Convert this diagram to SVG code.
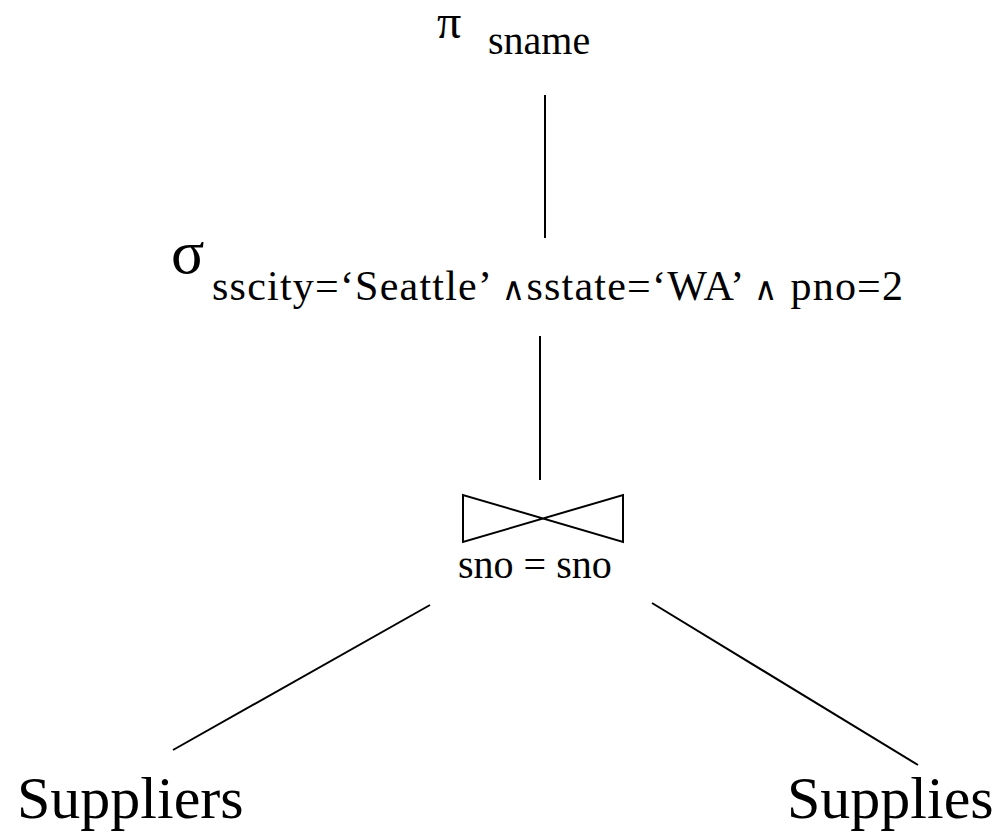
<svg xmlns="http://www.w3.org/2000/svg" width="1003" height="836" viewBox="0 0 1003 836">
<style>
.edge{stroke:#000;stroke-width:2;fill:none}
.lbl{font-family:'Liberation Serif','Times New Roman',serif;fill:#000}
.op{font-family:'DejaVu Serif',serif}
</style>
<rect width="1003" height="836" fill="#fff"/>
<g id="connectors">
<line class="edge" x1="545" y1="95" x2="545" y2="238"/>
<line class="edge" x1="540" y1="336" x2="540" y2="480"/>
<line class="edge" x1="430" y1="605" x2="173" y2="750"/>
<line class="edge" x1="652" y1="603" x2="918" y2="765"/>
</g>
<g id="project">
<text class="lbl" x="437" y="38" font-size="48" font-family="Liberation Serif">π</text>
<text class="lbl" x="488" y="54" font-size="40" font-family="Liberation Serif">sname</text>
</g>
<g id="select">
<text class="lbl" x="171" y="273" font-size="62" font-family="Liberation Serif">σ</text>
<text class="lbl" x="212" y="300" font-size="42" textLength="691" lengthAdjust="spacing" font-family="Liberation Serif">sscity=‘Seattle’ <tspan class="op" font-size="32">∧</tspan>sstate=‘WA’ <tspan class="op" font-size="32">∧</tspan> pno=2</text>
</g>
<g id="join">
<path class="edge" d="M463,495 L463,542 L623,495 L623,542 Z"/>
<text class="lbl" x="458" y="578" font-size="40" font-family="Liberation Serif">sno = sno</text>
</g>
<g id="suppliers"><text class="lbl" x="17" y="818" font-size="60" font-family="Liberation Serif">Suppliers</text></g>
<g id="supplies"><text class="lbl" x="787" y="818" font-size="60" font-family="Liberation Serif">Supplies</text></g>
</svg>
